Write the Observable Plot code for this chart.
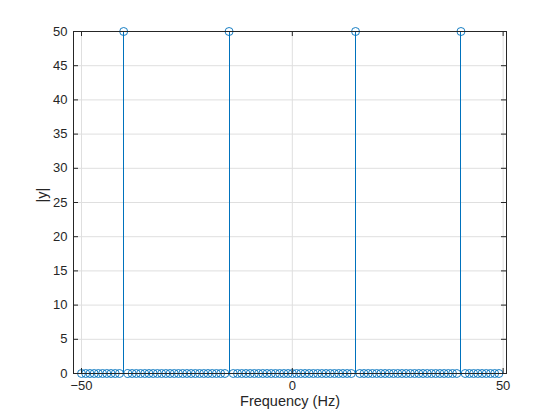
<!DOCTYPE html>
<html>
<head>
<meta charset="utf-8">
<script src="https://cdn.jsdelivr.net/npm/d3@7"></script>
<script src="https://cdn.jsdelivr.net/npm/@observablehq/plot@0.6"></script>
<style>
  html, body { margin: 0; padding: 0; background: #fff; }
  #chart { width: 560px; height: 420px; }
</style>
</head>
<body>
<div id="chart"></div>
<script>
// Frequency bins (Hz) of the shifted spectrum
const freqs = [
  -50,-49,-48,-47,-46,-45,-44,-43,-42,-41,-40,-39,-38,-37,-36,-35,-34,-33,-32,-31,
  -30,-29,-28,-27,-26,-25,-24,-23,-22,-21,-20,-19,-18,-17,-16,-15,-14,-13,-12,-11,
  -10,-9,-8,-7,-6,-5,-4,-3,-2,-1,0,1,2,3,4,5,6,7,8,9,
  10,11,12,13,14,15,16,17,18,19,20,21,22,23,24,25,26,27,28,29,
  30,31,32,33,34,35,36,37,38,39,40,41,42,43,44,45,46,47,48,49
];
// Magnitude |y| at each bin
const mags = [
  0,0,0,0,0,0,0,0,0,0,50,0,0,0,0,0,0,0,0,0,
  0,0,0,0,0,0,0,0,0,0,0,0,0,0,0,50,0,0,0,0,
  0,0,0,0,0,0,0,0,0,0,0,0,0,0,0,0,0,0,0,0,
  0,0,0,0,0,50,0,0,0,0,0,0,0,0,0,0,0,0,0,0,
  0,0,0,0,0,0,0,0,0,0,50,0,0,0,0,0,0,0,0,0
];
const xTicks = [-50, 0, 50];
const yTicks = [0, 5, 10, 15, 20, 25, 30, 35, 40, 45, 50];
const xLabel = "Frequency (Hz)";
const yLabel = "|y|";

const data = freqs.map((f, i) => ({f, m: mags[i]}));

const W = 560, H = 420;
const mL = 73, mR = 54, mT = 31, mB = 47;
const iw = W - mL - mR, ih = H - mT - mB;
const ink = "#262626";
const blue = "#0072BD";
const tl = 5;

const chart = Plot.plot({
  width: W, height: H,
  marginLeft: mL, marginRight: mR, marginTop: mT, marginBottom: mB,
  style: {fontFamily: "'Liberation Sans', Arial, sans-serif", fontSize: "13px", color: ink, background: "#fff", overflow: "visible"},
  x: {domain: [-51.9, 50.8]},
  y: {domain: [0, 50]},
  marks: [
    Plot.gridX(xTicks, {stroke: "#dfdfdf", strokeOpacity: 1}),
    Plot.gridY(yTicks, {stroke: "#dfdfdf", strokeOpacity: 1}),
    Plot.ruleX(data, {x: "f", y1: 0, y2: "m", stroke: blue, strokeWidth: 1, shapeRendering: "crispEdges"}),
    Plot.dot(data, {x: "f", y: "m", r: 4, stroke: blue, strokeWidth: 0.9, fill: "none"}),
    Plot.frame({stroke: ink, strokeWidth: 1}),
    Plot.tickX(xTicks, {x: d => d, stroke: ink, insetTop: ih - tl}),
    Plot.tickX(xTicks, {x: d => d, stroke: ink, insetBottom: ih - tl}),
    Plot.tickY(yTicks, {y: d => d, stroke: ink, insetRight: iw - tl}),
    Plot.tickY(yTicks, {y: d => d, stroke: ink, insetLeft: iw - tl}),
    Plot.axisX(xTicks, {tickSize: 0, tickPadding: 7, label: null, fill: ink, fontSize: 13}),
    Plot.axisY(yTicks, {tickSize: 0, tickPadding: 6, label: null, fill: ink, fontSize: 13}),
    Plot.text([xLabel], {frameAnchor: "bottom", dy: 32, text: d => d, fill: ink, fontSize: 14.5}),
    Plot.text([yLabel], {frameAnchor: "left", dx: -31, rotate: -90, text: d => d, fill: ink, fontSize: 14.5})
  ]
});
document.getElementById("chart").appendChild(chart);
</script>
</body>
</html>
